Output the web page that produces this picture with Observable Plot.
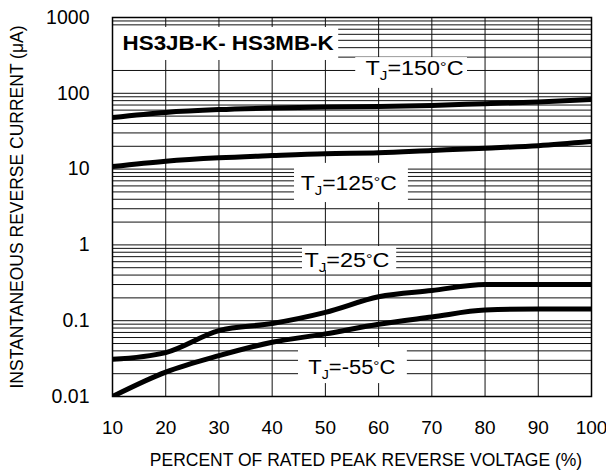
<!DOCTYPE html>
<html><head><meta charset="utf-8">
<script src="https://cdn.jsdelivr.net/npm/d3@7"></script>
<script src="https://cdn.jsdelivr.net/npm/@observablehq/plot@0.6"></script>
<style>
body{margin:0;background:#fff}
svg{font-family:"Liberation Sans",Arial,Helvetica,sans-serif}
</style>
</head><body><div id="chart"></div>
<script>
// ---- data ----
const voltage = [10, 20, 30, 40, 50, 60, 70, 80, 90, 100];
const current150 = [48, 56, 61, 64, 66, 67, 69, 73, 77, 83];
const current125 = [10.8, 12.7, 14.1, 15.1, 16, 16.4, 17.6, 18.9, 20.4, 23.1];
const current25 = [0.031, 0.038, 0.074, 0.092, 0.129, 0.207, 0.25, 0.30, 0.30, 0.30];
const currentM55 = [0.010, 0.021, 0.0346, 0.052, 0.067, 0.090, 0.112, 0.138, 0.143, 0.143];

const xTicks = [10, 20, 30, 40, 50, 60, 70, 80, 90, 100];
const xTickLabels = ["10", "20", "30", "40", "50", "60", "70", "80", "90", "100"];
const yTicks = [0.01, 0.1, 1, 10, 100, 1000];
const yTickLabels = ["0.01", "0.1", "1", "10", "100", "1000"];
const decades = [0.01, 0.1, 1, 10, 100];
const gridMultipliers = [1, 2, 3, 4, 5, 6, 7, 8, 9];

const seriesTemps = ["150", "125", "25", "-55"];
// label annotations (data coordinates)
const labelX = [66.75, 54.4, 54.05, 54.97];
const labelY = [210, 6.46, 0.62, 0.0241];
const labelWidths = [98, 96, 85, 87];
const boxX1 = [55.7, 44.2, 45.7, 44.95];
const boxX2 = [76.7, 65.6, 63.4, 65.4];
const boxY1 = [116, 3.62, 0.46, 0.0148];
const boxY2 = [296, 11.9, 0.953, 0.0443];

const titleText = "HS3JB-K- HS3MB-K";
const titleX = 11.9, titleY = 454;
const titleWidth = 211;
const titleBox = {x1: 10.06, x2: 52.5, y1: 271, y2: 738};

const xLabel = "PERCENT OF RATED PEAK REVERSE VOLTAGE (%)";
const yLabel = "INSTANTANEOUS REVERSE CURRENT (\u03bcA)";

// ---- build tables ----
const seriesValues = [current150, current125, current25, currentM55];
const rows = [];
seriesTemps.forEach((t, k) => voltage.forEach((v, i) => rows.push({v, c: seriesValues[k][i], s: t})));
const gridY = [];
decades.forEach(d => gridMultipliers.forEach(m => { const val = +(d * m).toPrecision(3); if (val > 0.01) gridY.push(val); }));
const gridX = xTicks.slice(1, -1);
const labels = seriesTemps.map((t, i) => ({t, x: labelX[i], y: labelY[i], w: labelWidths[i], x1: boxX1[i], x2: boxX2[i], y1: boxY1[i], y2: boxY2[i]}));
const yTickRows = yTicks.map((v, i) => ({v, label: yTickLabels[i]}));

const FONT = "Liberation Sans, Arial, Helvetica, sans-serif";

const chart = Plot.plot({
  width: 606,
  height: 475,
  marginTop: 17,
  marginBottom: 79,
  marginLeft: 112,
  marginRight: 15,
  style: {fontFamily: FONT, background: "#fff", color: "#000"},
  x: {type: "linear", domain: [10, 100], axis: null},
  y: {type: "log", domain: [0.01, 1000], axis: null},
  marks: [
    Plot.ruleY(gridY, {stroke: "#111", strokeWidth: 1}),
    Plot.ruleX(gridX, {stroke: "#111", strokeWidth: 1}),
    Plot.rect([titleBox], {x1: "x1", x2: "x2", y1: "y1", y2: "y2", fill: "#fff"}),
    Plot.rect(labels, {x1: "x1", x2: "x2", y1: "y1", y2: "y2", fill: "#fff"}),
    Plot.line(rows, {x: "v", y: "c", z: "s", stroke: "#000", strokeWidth: 5, curve: "monotone-x", clip: true, strokeLinecap: "butt"}),
    Plot.frame({stroke: "#000", strokeWidth: 1.5}),
    Plot.text(xTicks, {x: d => d, text: (d, i) => xTickLabels[i], frameAnchor: "bottom", textAnchor: "middle", lineAnchor: "middle", dy: 31, fontSize: 19, fill: "#000"}),
    Plot.text(yTickRows, {y: "v", text: "label", frameAnchor: "left", textAnchor: "end", lineAnchor: "middle", dx: -23, fontSize: 19.5, fill: "#000"}),
    Plot.text([titleText], {x: titleX, y: titleY, text: d => d, textAnchor: "start", lineAnchor: "middle", fontSize: 20, fontWeight: "bold", fill: "#000", className: "charttitle"}),
    Plot.text(labels, {x: "x", y: "y", text: d => "TJ=" + d.t + "\u00b0C", fontSize: 20, lineAnchor: "middle", fill: "#000", className: "tjlabel"}),
    Plot.text([xLabel], {frameAnchor: "bottom", text: d => d, textAnchor: "middle", lineAnchor: "middle", dx: 14, dy: 63.5, fontSize: 17.5, fill: "#000"}),
    Plot.text([yLabel], {frameAnchor: "left", text: d => d, textAnchor: "middle", lineAnchor: "middle", rotate: -90, dx: -95, fontSize: 17.5, fill: "#000"})
  ]
});

// title width to match reference lettering
chart.querySelectorAll(".charttitle text").forEach(t => {
  t.setAttribute("textLength", titleWidth);
  t.setAttribute("lengthAdjust", "spacingAndGlyphs");
});

// subscript J and small degree sign
chart.querySelectorAll(".tjlabel text").forEach((t, idx) => {
  const s = t.textContent;
  const m = s.match(/^TJ=(.*)\u00b0C$/);
  if (!m) return;
  while (t.firstChild) t.removeChild(t.firstChild);
  const ns = "http://www.w3.org/2000/svg";
  const add = (txt, attrs) => { const sp = document.createElementNS(ns, "tspan"); sp.textContent = txt; for (const k in attrs) sp.setAttribute(k, attrs[k]); t.appendChild(sp); };
  add("T", {});
  add("J", {"font-size": 13, dy: 5});
  add("=" + m[1], {dy: -5});
  add("\u00b0", {"font-size": 14, dy: -3});
  add("C", {dy: 3});
  const w = labels[idx] ? labels[idx].w : null;
  if (w) { t.setAttribute("textLength", w); t.setAttribute("lengthAdjust", "spacingAndGlyphs"); }
});

document.getElementById("chart").appendChild(chart);
</script>
</body></html>
